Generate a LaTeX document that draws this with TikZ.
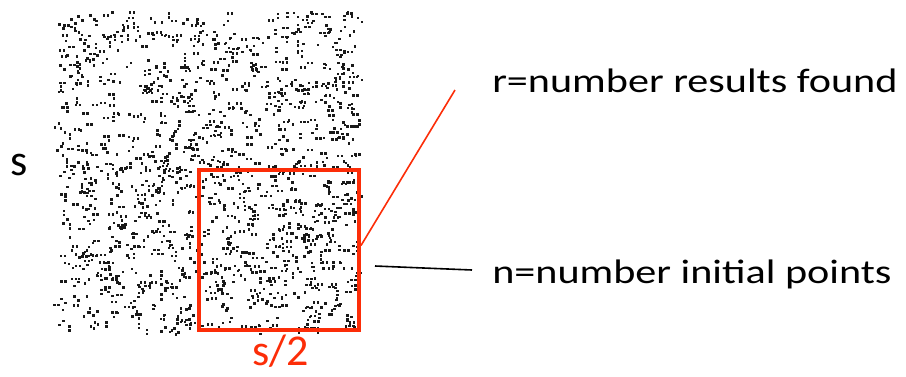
\documentclass[tikz,border=0pt]{standalone}
\usepackage{fontspec}
\setmainfont{Carlito}
\usepackage{xcolor}
\usetikzlibrary{calc}
\definecolor{boxred}{RGB}{252,45,8}

\begin{document}
\begin{tikzpicture}[x=1pt,y=-1pt,
  label/.style={font=\fontsize{34}{40}\selectfont,inner sep=0pt,anchor=base west,xscale=1.24,transform shape},
  sidelabel/.style={font=\fontsize{44}{50}\selectfont,inner sep=0pt,anchor=base},
  dot/.style={fill=black!90}]
\useasboundingbox (0,0) rectangle (906,376);
\pgfmathsetseed{4711}
\foreach \i in {1,...,1050}{
  \pgfmathsetmacro\px{57+302*rnd}
  \pgfmathsetmacro\py{11+318*rnd}
  \pgfmathsetmacro\dx{4*(random(0,2)-1)}
  \pgfmathsetmacro\dy{4*random(0,1)}
  \fill[dot] (\px,\py) rectangle ++(2.5,2.5);
  \fill[dot] (\px+\dx,\py+\dy) rectangle ++(2.5,2.5);
}
\node (half) [draw=boxred,line width=4pt,minimum size=160pt,inner sep=0pt] at (279,249.5) {};
\node (s) [sidelabel] at (19.5,175) {s};
\node (shalf) [sidelabel,text=boxred] at (281,365) {s/2};
\node (r) [label] at (492,92) {r=number results found};
\node (n) [label] at (492,283) {n=number initial points};
\coordinate (rend) at (455,90);
\coordinate (nstart) at (375,266);
\coordinate (nend) at (472,270);
\draw[boxred,line width=1.6pt] ($(half.east)+(0,-4)$) -- (rend);
\draw[black,line width=1.6pt] (nstart) -- (nend);
\end{tikzpicture}
\end{document}
